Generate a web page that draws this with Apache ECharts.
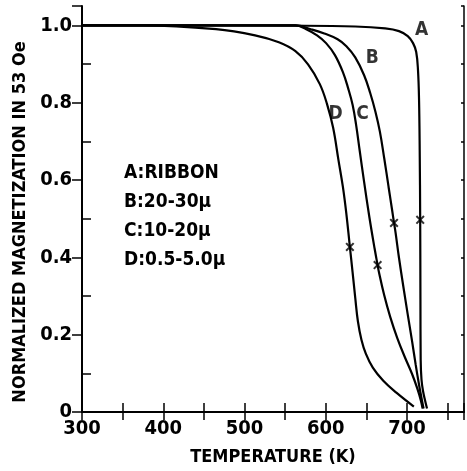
<!DOCTYPE html>
<html><head><meta charset="utf-8">
<script src="https://cdn.jsdelivr.net/npm/echarts@6/dist/echarts.min.js"></script>
<style>html,body{margin:0;padding:0;background:#fff}#c{width:467px;height:471px}</style>
</head><body><div id="c"></div>
<script>
// Temperature (K), normalized magnetization in 53 Oe
const curveA = [[300,1.0],[562.6,0.999],[636.2,0.997],[672.9,0.992],[690,0.985],[700.8,0.972],[707.3,0.954],[711.2,0.931],[713.4,0.884],[714.7,0.806],[715.5,0.677],[716.1,0.497],[716.4,0.29],[716.7,0.135],[717.7,0.084],[719.7,0.053],[722.1,0.03],[724.5,0.009]];
const curveB = [[300,1.0],[562.6,1.0],[581.4,0.99],[598.1,0.979],[614.5,0.964],[625.3,0.946],[636.2,0.917],[647.1,0.871],[654.6,0.825],[661.1,0.776],[666.5,0.725],[671.8,0.657],[677.2,0.582],[681.5,0.523],[683.9,0.489],[685.8,0.464],[690,0.399],[695.4,0.324],[700.8,0.252],[706.2,0.182],[710.5,0.123],[714.9,0.068],[718.1,0.032],[720.3,0.009]];
const curveC = [[300,1.0],[562.6,1.0],[575.9,0.99],[589.2,0.974],[600.3,0.954],[611.2,0.923],[621,0.879],[627.5,0.837],[633,0.794],[637.3,0.742],[641.6,0.677],[647.1,0.595],[653.5,0.505],[659.9,0.424],[663.7,0.38],[665.3,0.362],[671.7,0.303],[679.2,0.246],[687.8,0.192],[697.4,0.141],[706,0.099],[712.5,0.061],[716.9,0.03],[719.1,0.009]];
const curveD = [[300,1.0],[375.2,1.0],[464.9,0.99],[512.9,0.974],[542.2,0.956],[562.6,0.933],[578.1,0.899],[592.6,0.848],[601.4,0.797],[609,0.735],[615.5,0.652],[621,0.582],[625.3,0.512],[629.1,0.437],[632.9,0.362],[636.2,0.295],[639.5,0.234],[643.8,0.187],[649.2,0.151],[657.8,0.115],[670.7,0.081],[686.8,0.05],[708.3,0.014]];
const markerTemps = [716.1, 683.9, 663.7, 629.6];
const markerValues = [0.497, 0.489, 0.38, 0.427];
const curveNames = ['A','B','C','D'];
const labelTemps = [718, 657, 645, 612];
const labelValues = [0.988, 0.915, 0.77, 0.77];
const legendLines = ['A:RIBBON','B:20-30\u03bc','C:10-20\u03bc','D:0.5-5.0\u03bc'];
const xTickLabels = [300,400,500,600,700];
const yTickLabels = [0,0.2,0.4,0.6,0.8,1.0];

const FONT = '"DejaVu Sans Condensed","Liberation Sans Narrow","DejaVu Sans",sans-serif';
const chart = echarts.init(document.getElementById('c'), null, {renderer:'canvas'});
const curves = [curveA, curveB, curveC, curveD];
const xPath = 'path://M0,1.6 L1.6,0 L5,3.4 L8.4,0 L10,1.6 L6.6,5 L10,8.4 L8.4,10 L5,6.6 L1.6,10 L0,8.4 L3.4,5 Z';

const series = curves.map((c,i)=>({
  type:'line', name: curveNames[i], data:c, showSymbol:false, smooth:0.4,
  lineStyle:{color:'#000', width:2.2}, silent:true, z:3
}));
series.push({
  type:'scatter', data: markerTemps.map((t,i)=>[t, markerValues[i]]),
  symbol: xPath, symbolSize: 9, itemStyle:{color:'#000'}, z:4, silent:true
});
series.push({
  type:'scatter', data: labelTemps.map((t,i)=>({value:[t,labelValues[i]], name:curveNames[i]})),
  symbolSize: 0, silent:true, z:5,
  label:{show:true, position:'inside', formatter:p=>p.name, color:'#000', fontFamily:FONT, fontSize:19, fontWeight:'bold'}
});

chart.setOption({
  animation:false,
  backgroundColor:'#fff',
  grid:{left:82, right:0, top:6, bottom:58, containLabel:false},
  xAxis:[{
    type:'value', position:'bottom', min:300, max:770, interval:50,
    axisLine:{show:true, lineStyle:{color:'#000', width:2}},
    axisTick:{show:true, inside:true, length:9, lineStyle:{color:'#000', width:1.5}},
    axisLabel:{color:'#000', fontFamily:FONT, fontSize:20, fontWeight:'bold', margin:7,
      formatter:v=> xTickLabels.includes(v) ? String(v) : ''},
    splitLine:{show:false},
    name:'TEMPERATURE (K)', nameLocation:'middle', nameGap:36,
    nameTextStyle:{color:'#000', fontFamily:FONT, fontSize:18, fontWeight:'bold'}
  },{
    type:'value', position:'top', min:300, max:770, interval:50,
    axisLine:{show:true, lineStyle:{color:'#000', width:1.5}},
    axisTick:{show:true, inside:true, length:8, lineStyle:{color:'#000', width:1.5}},
    axisLabel:{show:false}, splitLine:{show:false}
  }],
  yAxis:[{
    type:'value', position:'left', min:0, max:1.05, interval:0.2,
    axisLine:{show:true, lineStyle:{color:'#000', width:2}},
    axisTick:{show:true, inside:false, length:10, lineStyle:{color:'#000', width:1.5}},
    minorTick:{show:true, splitNumber:2, length:-9, lineStyle:{color:'#000', width:1.5}},
    axisLabel:{color:'#000', fontFamily:FONT, fontSize:20, fontWeight:'bold', margin:10,
      formatter:v=>{ const m = yTickLabels.find(t=>Math.abs(t-v)<1e-6); if(m===undefined) return ''; return m===0?'0':m.toFixed(1);} },
    splitLine:{show:false},
    name:'NORMALIZED MAGNETIZATION IN 53 Oe', nameLocation:'middle', nameGap:48,
    nameTextStyle:{color:'#000', fontFamily:FONT, fontSize:18, fontWeight:'bold', padding:[0,26,0,0]}
  },{
    type:'value', position:'right', min:0, max:1.05, interval:0.1,
    axisLine:{show:true, lineStyle:{color:'#000', width:1.5}},
    axisTick:{show:true, inside:true, length:3, lineStyle:{color:'#000', width:1.5}},
    axisLabel:{show:false}, splitLine:{show:false}
  }],
  graphic: legendLines.map((t,i)=>({
    type:'text', left:124, top:164 + i*29, silent:true,
    style:{text:t, fill:'#000', font:'bold 19px ' + FONT}
  })),
  series: series
});
</script></body></html>
